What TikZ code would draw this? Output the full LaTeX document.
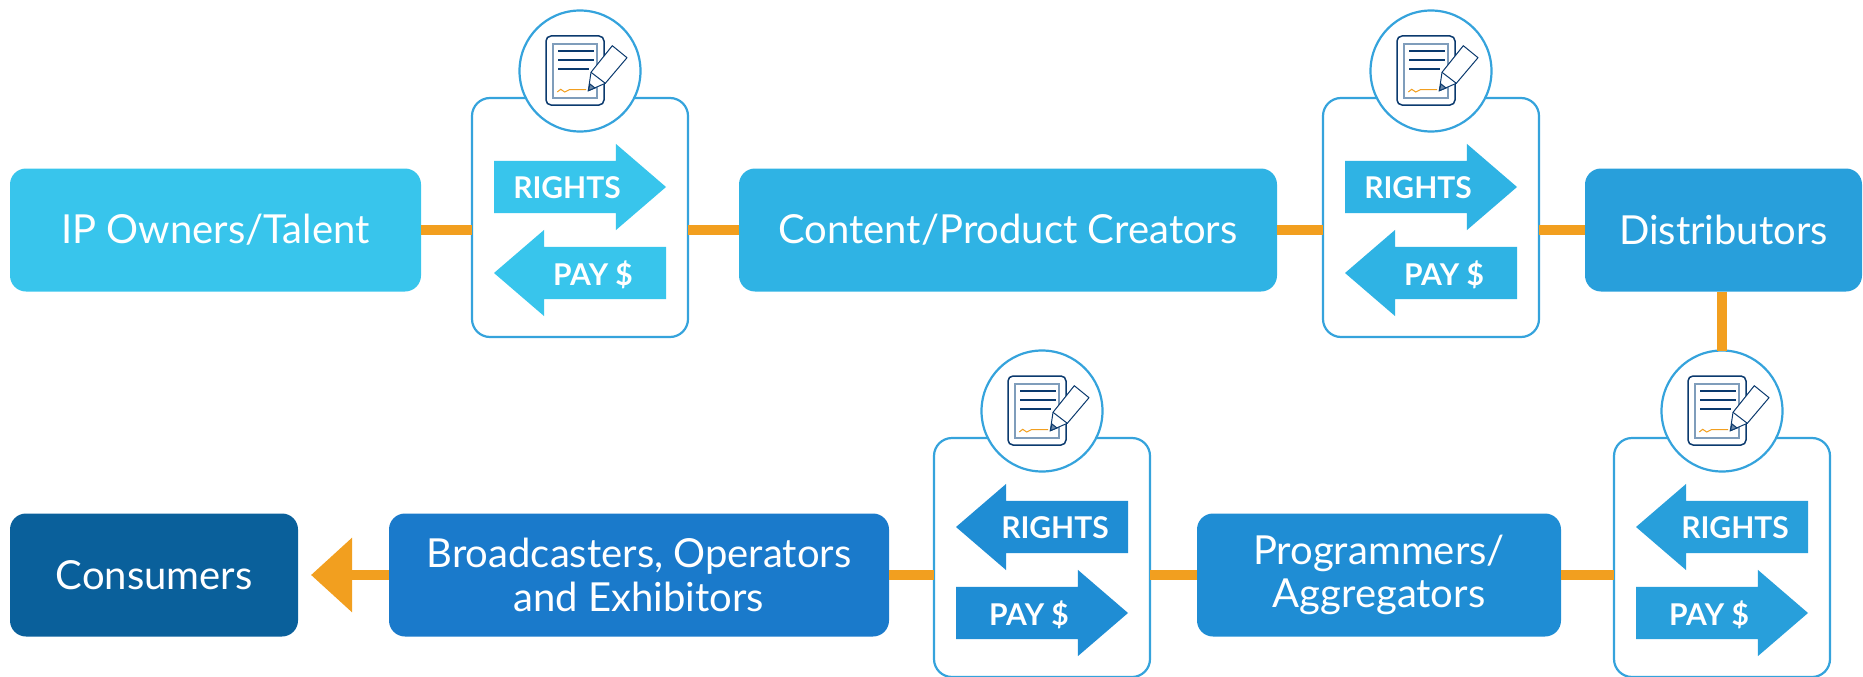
\documentclass[tikz,border=0pt]{standalone}
\usepackage{fontspec}
\setmainfont{Lato}
\usetikzlibrary{shapes.arrows,arrows.meta}
\definecolor{cA}{HTML}{38C5EC}
\definecolor{cB}{HTML}{2FB3E4}
\definecolor{cC}{HTML}{289FDB}
\definecolor{cD}{HTML}{1F8DD4}
\definecolor{cE}{HTML}{1A7ACB}
\definecolor{cF}{HTML}{0A609B}
\definecolor{orangeL}{HTML}{F29F1F}
\definecolor{panelL}{HTML}{35A3DC}
\definecolor{navy}{HTML}{0B3A6E}
\definecolor{docG}{HTML}{7F9DBB}
\tikzset{
  stage/.style={fill=#1,rounded corners=16pt,text=white,inner sep=0pt,outer sep=0pt,
    font=\fontsize{40}{43.5}\selectfont,align=center},
  panelbox/.style={draw=panelL,line width=2.2pt,fill=white,rounded corners=18pt,
    minimum width=216pt,minimum height=239pt,inner sep=0pt,outer sep=0pt},
  sealdisc/.style={circle,draw=panelL,line width=2.2pt,fill=white,minimum size=121pt,inner sep=0pt,outer sep=0pt},
  flowarrow/.style={single arrow,fill=#1,minimum height=172pt,minimum width=86pt,anchor=tail,
    single arrow head extend=17pt,single arrow tip angle=81.4,single arrow head indent=0pt,inner sep=0pt,outer sep=0pt},
  flowtext/.style={text=white,inner sep=0pt,anchor=base,font=\fontsize{30}{34}\selectfont\bfseries},
  link/.style={draw=orangeL,line width=10pt}
}
% name, cx, cy, colour, rotation of upper arrow, rotation of lower, upper text, upper dx, lower text
\newcommand\contractpanel[9]{%
\begin{scope}[shift={(#2,#3)}]
  \node[panelbox] (#1box) at (0,146.5) {};
  \node[sealdisc] (#1seal) at (0,0) {};
  \node[flowarrow=#4,shape border rotate=#5] (#1up) at ({-86*cos(#5)},116) {\rule{0pt}{52pt}};
  \node[flowarrow=#4,shape border rotate=#6] (#1down) at ({-86*cos(#6)},202) {\rule{0pt}{52pt}};
  \node[flowtext] (#1uptext) at (#8,127) {#7};
  \node[flowtext] (#1downtext) at (-#8,214.5) {#9};
  % icon
  \draw[navy,line width=1.5pt,rounded corners=5pt,fill=white] (-34,-35) rectangle (24,34);
  \draw[docG,line width=1.8pt] (-26.7,-27) rectangle (16.7,27);
  \draw[navy,line width=2pt] (-22,-20.3)--(14,-20.3) (-22,-11.3)--(14,-11.3) (-22,-2.3)--(9,-2.3);
  \draw[orangeL,line width=1pt] (-22.7,21) -- (-19.3,18.3) -- (-15.3,21) -- (-10.7,18.7) -- (6,18.7);
  \draw[navy,line width=1pt,fill=white,line join=round]
    (8.3,19.7) -- (11,1.3) -- (32.3,-25.3) -- (47,-13.3) -- (25.3,12.3) -- cycle;
  \draw[navy,line width=1pt] (11,1.3) -- (25.3,12.3);
  \draw[navy,line width=1pt,fill=navy!60] (8.3,19.7) -- (10,13) -- (15,17) -- cycle;
\end{scope}}
\begin{document}
\begin{tikzpicture}[x=1pt,y=-1pt]
\useasboundingbox (0,0) rectangle (1863,677);
\node[stage=cA,minimum width=411pt,minimum height=123pt] (ip) at (215.5,230) {IP Owners/Talent};
\node[stage=cB,minimum width=538pt,minimum height=123pt] (creators) at (1008,230) {Content/Product Creators};
\node[stage=cC,minimum width=277pt,minimum height=123pt] (dist) at (1723.5,230) {Distributors};
\node[stage=cD,minimum width=364pt,minimum height=123pt] (prog) at (1379,575) {Programmers/\\Aggregators};
\node[stage=cE,minimum width=500pt,minimum height=123pt] (broad) at (639,575) {Broadcasters, Operators\\and Exhibitors};
\node[stage=cF,minimum width=288pt,minimum height=123pt] (cons) at (154,575) {Consumers};
\contractpanel{pa}{580}{71}{cA}{0}{180}{RIGHTS}{-13}{PAY \$}
\contractpanel{pb}{1431}{71}{cB}{0}{180}{RIGHTS}{-13}{PAY \$}
\contractpanel{pc}{1042}{411}{cD}{180}{0}{RIGHTS}{13}{PAY \$}
\contractpanel{pd}{1722}{411}{cC}{180}{0}{RIGHTS}{13}{PAY \$}
\draw[link] (ip.east) -- (pabox.west |- ip.east);
\draw[link] (pabox.east |- creators.west) -- (creators.west);
\draw[link] (creators.east) -- (pbbox.west |- creators.east);
\draw[link] (pbbox.east |- dist.west) -- (dist.west);
\draw[link] (dist.south -| pdseal.north) -- (pdseal.north);
\draw[link] (pdbox.west |- prog.east) -- (prog.east);
\draw[link] (prog.west) -- (pcbox.east |- prog.west);
\draw[link] (pcbox.west |- broad.east) -- (broad.east);
\draw[link,shorten >=13pt,-{Triangle[length=41pt,width=72pt]}] (broad.west) -- (cons.east);
\end{tikzpicture}
\end{document}
